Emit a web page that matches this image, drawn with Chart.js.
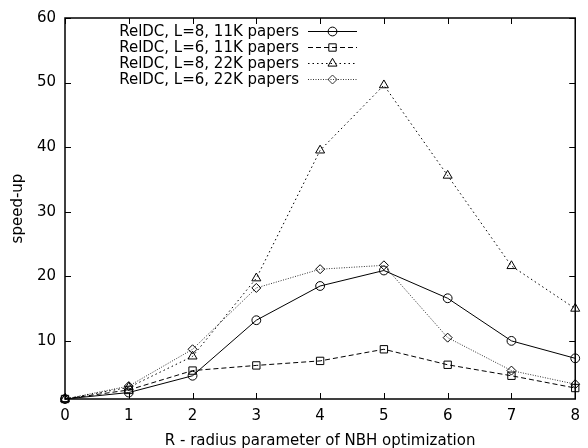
<!DOCTYPE html>
<html>
<head>
<meta charset="utf-8">
<script src="https://cdn.jsdelivr.net/npm/chart.js@4.4.1/dist/chart.umd.min.js"></script>
<style>
  html, body { margin: 0; padding: 0; background: #fff; }
  #wrap { width: 588px; height: 448px; }
</style>
</head>
<body>
<div id="wrap"><canvas id="speedupChart" width="588" height="448"></canvas></div>
<script>
// R values on the x axis
const radius = [0, 1, 2, 3, 4, 5, 6, 7, 8];

// measured speed-ups per configuration
const l8Papers11k = [1, 2.0, 4.6, 13.2, 18.5, 20.9, 16.6, 10.0, 7.3];
const l6Papers11k = [1, 2.4, 5.4, 6.2, 6.9, 8.7, 6.3, 4.6, 2.7];
const l8Papers22k = [1, 2.8, 7.6, 19.7, 39.5, 49.6, 35.6, 21.6, 15.0];
const l6Papers22k = [1, 3.0, 8.7, 18.2, 21.1, 21.7, 10.5, 5.4, 3.3];

const seriesLabels = [
    'RelDC, L=8, 11K papers',
    'RelDC, L=6, 11K papers',
    'RelDC, L=8, 22K papers',
    'RelDC, L=6, 22K papers'
];

const yTicks = [10, 20, 30, 40, 50, 60];
const xTitle = 'R - radius parameter of NBH optimization';
const yTitle = 'speed-up';

Chart.defaults.font.family = "'DejaVu Sans', sans-serif";
Chart.defaults.font.size = 15;
Chart.defaults.color = '#000';

function toPoints(values) {
    return values.map((v, i) => ({ x: radius[i], y: v }));
}

function makeSeries(label, values, style) {
    return Object.assign({
        label: label,
        data: toPoints(values),
        borderColor: '#000',
        borderWidth: 1,
        pointBackgroundColor: 'rgba(0,0,0,0)',
        pointBorderColor: '#000',
        pointBorderWidth: 1,
        tension: 0,
        fill: false,
        clip: false
    }, style);
}

// gnuplot-like frame with inward ticks on all four sides
const framePlugin = {
    id: 'frame',
    afterDraw(chart) {
        const { ctx, chartArea: a, scales } = chart;
        const tick = 6;
        ctx.save();
        ctx.strokeStyle = '#000';
        ctx.lineWidth = 1.5;
        ctx.strokeRect(a.left, a.top, a.right - a.left, a.bottom - a.top);
        ctx.lineWidth = 1;
        ctx.beginPath();
        radius.forEach(v => {
            const px = Math.round(scales.x.getPixelForValue(v)) + 0.5;
            ctx.moveTo(px, a.bottom); ctx.lineTo(px, a.bottom - tick);
            ctx.moveTo(px, a.top); ctx.lineTo(px, a.top + tick);
        });
        yTicks.forEach(v => {
            const py = Math.round(scales.y.getPixelForValue(v)) + 0.5;
            ctx.moveTo(a.left, py); ctx.lineTo(a.left + tick, py);
            ctx.moveTo(a.right, py); ctx.lineTo(a.right - tick, py);
        });
        ctx.stroke();
        ctx.restore();
    }
};

// key in the top-left: right-aligned text, sample line with marker to its right
const keyPlugin = {
    id: 'key',
    afterDraw(chart) {
        const ctx = chart.ctx;
        const textRight = 299;
        const lineStart = 308;
        const lineEnd = 357;
        const firstRow = 31;
        const rowGap = 16;
        ctx.save();
        ctx.font = "15px 'DejaVu Sans', sans-serif";
        ctx.textAlign = 'right';
        ctx.textBaseline = 'middle';
        chart.data.datasets.forEach((ds, i) => {
            const y = firstRow + i * rowGap;
            ctx.fillStyle = '#000';
            ctx.fillText(ds.label, textRight, y + 1);
            ctx.strokeStyle = ds.borderColor;
            ctx.lineWidth = ds.borderWidth;
            ctx.setLineDash(ds.borderDash || []);
            ctx.beginPath();
            ctx.moveTo(lineStart, y + 0.5);
            ctx.lineTo(lineEnd, y + 0.5);
            ctx.stroke();
            ctx.setLineDash([]);
            ctx.lineWidth = ds.pointBorderWidth;
            ctx.fillStyle = ds.pointBackgroundColor;
            Chart.helpers.drawPoint(ctx, {
                pointStyle: ds.pointStyle,
                radius: ds.pointRadius,
                rotation: 0,
                borderWidth: ds.pointBorderWidth
            }, (lineStart + lineEnd) / 2, y + 0.5);
        });
        ctx.restore();
    }
};

const ctx = document.getElementById('speedupChart').getContext('2d');

new Chart(ctx, {
    type: 'line',
    data: {
        datasets: [
            makeSeries(seriesLabels[0], l8Papers11k, {
                pointStyle: 'circle', pointRadius: 4.4
            }),
            makeSeries(seriesLabels[1], l6Papers11k, {
                pointStyle: 'rect', pointRadius: 5.2, borderDash: [5, 3]
            }),
            makeSeries(seriesLabels[2], l8Papers22k, {
                pointStyle: 'triangle', pointRadius: 5.2, borderDash: [1.5, 3]
            }),
            makeSeries(seriesLabels[3], l6Papers22k, {
                pointStyle: 'rectRot', pointRadius: 4.5, borderDash: [1, 1.5],
                borderColor: '#333'
            })
        ]
    },
    options: {
        responsive: false,
        animation: false,
        devicePixelRatio: 1,
        layout: { padding: { top: 14, right: 11, left: 0, bottom: 0 } },
        plugins: {
            legend: { display: false },
            tooltip: { enabled: false }
        },
        scales: {
            x: {
                type: 'linear',
                min: 0,
                max: 8,
                grid: { display: false, drawTicks: false },
                border: { display: false },
                ticks: { stepSize: 1, padding: 8, maxRotation: 0 },
                title: { display: true, text: xTitle, padding: { top: 0, bottom: -2 } },
                afterFit(scale) { scale.height = 49; }
            },
            y: {
                min: 1,
                max: 60,
                grid: { display: false, drawTicks: false },
                border: { display: false },
                ticks: { padding: 9 },
                afterBuildTicks(scale) {
                    scale.ticks = yTicks.map(v => ({ value: v }));
                },
                title: { display: true, text: yTitle, padding: { top: 9, bottom: 0 } },
                afterFit(scale) { scale.width = 65; }
            }
        }
    },
    plugins: [framePlugin, keyPlugin]
});
</script>
</body>
</html>
